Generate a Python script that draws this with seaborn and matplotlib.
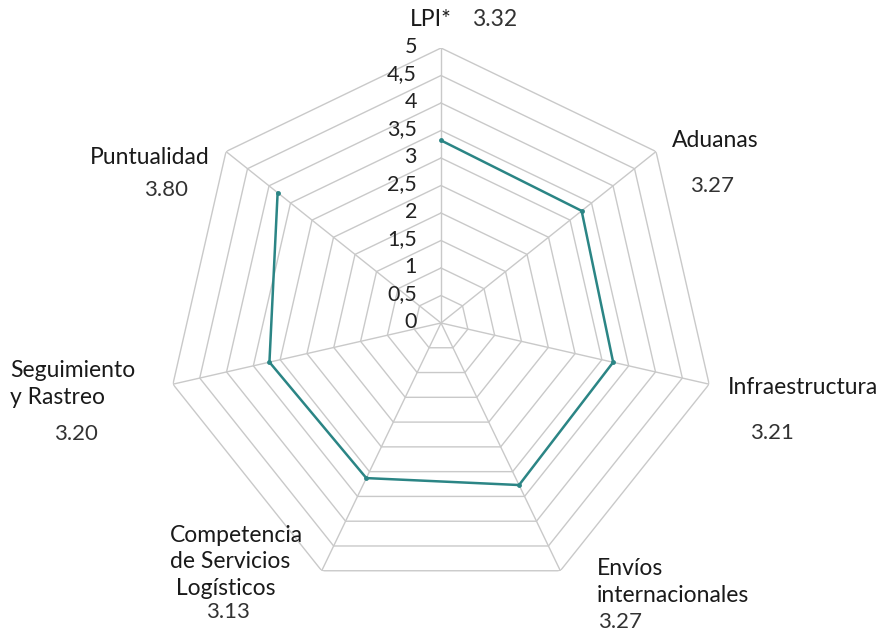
import numpy as np
import pandas as pd
import seaborn as sns
import matplotlib.pyplot as plt
from matplotlib.transforms import offset_copy

# data
categories = ["LPI*", "Aduanas", "Infraestructura", "Envíos\ninternacionales",
              "Competencia\nde Servicios\n Logísticos", "Seguimiento\ny Rastreo", "Puntualidad"]
scores = [3.32, 3.27, 3.21, 3.27, 3.13, 3.20, 3.80]
levels = [0, 0.5, 1, 1.5, 2, 2.5, 3, 3.5, 4, 4.5, 5]
level_labels = ["0", "0,5", "1", "1,5", "2", "2,5", "3", "3,5", "4", "4,5", "5"]

sns.set_style("white")
plt.rcParams['font.family'] = ['Lato', 'DejaVu Sans']

n = len(categories)
angles = np.linspace(0, 2 * np.pi, n, endpoint=False)

fig = plt.figure(figsize=(8.84, 6.34), dpi=100)
ax = fig.add_axes([0.1878, 0.0568, 0.6222, 0.8675], projection="polar")
ax.set_theta_offset(np.pi / 2)
ax.set_theta_direction(-1)
ax.set_ylim(0, 5)
ax.axis("off")

grid_c = "#c9c9c9"
ring = np.append(angles, angles[0])
for lv in levels[1:]:
    ax.plot(ring, [lv] * len(ring), color=grid_c, lw=1, zorder=1)
for a in angles:
    ax.plot([a, a], [0, 5], color=grid_c, lw=1, zorder=1)

# value labels on the vertical axis
tr = offset_copy(ax.transData, fig=fig, x=-24, y=1, units="dots")
for lv, lab in zip(levels, level_labels):
    ax.text(0, lv, lab, transform=tr, ha="right", va="center", fontsize=15.5, color="#222222")

# data line
df = pd.DataFrame({"angle": list(angles) + [angles[0]], "score": scores + [scores[0]]})
sns.lineplot(data=df, x="angle", y="score", sort=False, ax=ax, color="#2b8585",
             lw=1.8, marker="o", markersize=3.5, markeredgewidth=0, zorder=3)

# category labels (pixel positions from the reference)
W, H = 884, 634
def ftext(x, y, s, ha="left", color="#1a1a1a", size=16.5, **kw):
    fig.text(x / W, 1 - y / H, s, ha=ha, va="center", fontsize=size, color=color,
             linespacing=1.32, **kw)

num_c = "#333333"
ftext(452, 20, categories[0], ha="right")
ftext(472, 20, f"{scores[0]:.2f}", color=num_c)
ftext(715, 141, categories[1], ha="center")
ftext(712, 186, f"{scores[1]:.2f}", ha="center", color=num_c, size=16)
ftext(728, 387, categories[2])
ftext(772, 433, f"{scores[2]:.2f}", ha="center", color=num_c, size=16)
ftext(597, 582, categories[3])
ftext(620, 622, f"{scores[3]:.2f}", ha="center", color=num_c, size=16)
ftext(170, 562, categories[4])
ftext(228, 612, f"{scores[4]:.2f}", ha="center", color=num_c, size=16)
ftext(10, 384, categories[5])
ftext(76, 434, f"{scores[5]:.2f}", ha="center", color=num_c, size=16)
ftext(150, 157, categories[6], ha="center")
ftext(166, 190, f"{scores[6]:.2f}", ha="center", color=num_c, size=16)

fig.savefig("out.png", dpi=100, facecolor="white")
